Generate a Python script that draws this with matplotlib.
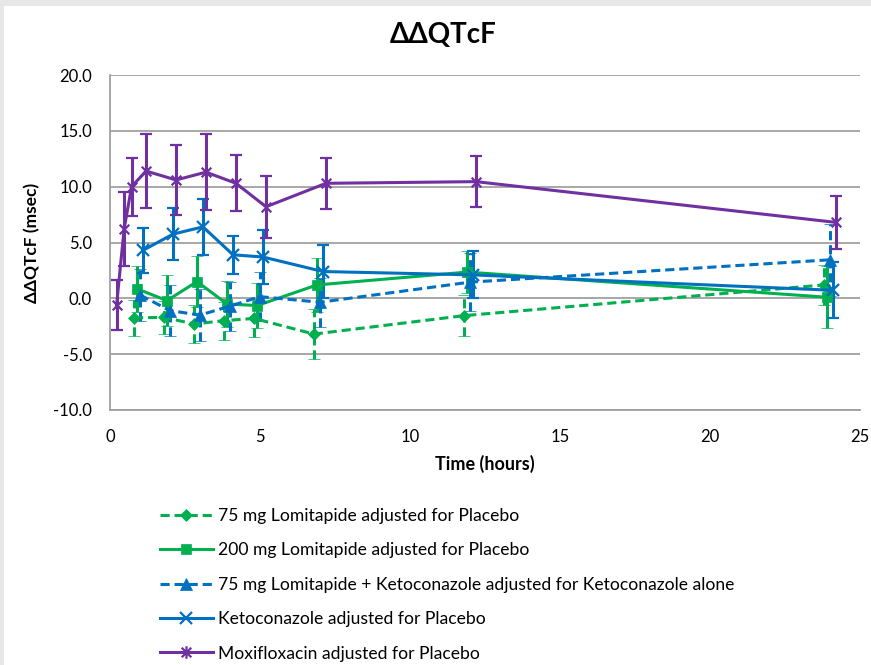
import numpy as np
import matplotlib
matplotlib.use("Agg")
import matplotlib.pyplot as plt
from matplotlib.path import Path
from matplotlib.patches import Rectangle

plt.rcParams['font.family'] = ['Lato', 'DejaVu Sans']

# --- data (x already includes the small per-series shift) ---
t_75 = [0.8, 1.8, 2.8, 3.8, 4.8, 6.8, 11.8, 23.8]
y_75 = [-1.75, -1.7, -2.3, -2.0, -1.8, -3.2, -1.55, 1.2]
e_75 = [1.6, 1.5, 1.7, 1.7, 1.7, 2.25, 1.85, 1.8]

t_200 = [0.9, 1.9, 2.9, 3.9, 4.9, 6.9, 11.9, 23.9]
y_200 = [0.85, -0.2, 1.5, -0.5, -0.65, 1.2, 2.35, 0.1]
e_200 = [2.05, 2.3, 2.27, 2.05, 2.0, 2.4, 1.85, 2.8]

t_ket75 = [1.0, 2.0, 3.0, 4.0, 5.0, 7.0, 12.0, 24.0]
y_ket75 = [0.3, -1.1, -1.5, -0.7, 0.15, -0.35, 1.45, 3.45]
e_ket75 = [2.3, 2.3, 2.3, 2.2, 2.2, 2.2, 2.6, 3.25]

t_ket = [1.1, 2.1, 3.1, 4.1, 5.1, 7.1, 12.1, 24.1]
y_ket = [4.3, 5.75, 6.4, 3.9, 3.7, 2.4, 2.1, 0.72]
e_ket = [2.0, 2.3, 2.5, 1.7, 2.4, 2.35, 2.1, 2.5]

t_moxi = [0.22, 0.47, 0.72, 1.2, 2.2, 3.2, 4.2, 5.2, 7.2, 12.2, 24.2]
y_moxi = [-0.6, 6.2, 10.0, 11.4, 10.6, 11.3, 10.3, 8.2, 10.3, 10.45, 6.8]
e_moxi = [2.25, 3.3, 2.6, 3.35, 3.1, 3.4, 2.5, 2.8, 2.3, 2.3, 2.35]

labels = ["75 mg Lomitapide adjusted for Placebo",
          "200 mg Lomitapide adjusted for Placebo",
          "75 mg Lomitapide + Ketoconazole adjusted for Ketoconazole alone",
          "Ketoconazole adjusted for Placebo",
          "Moxifloxacin adjusted for Placebo"]

GREEN = "#00B050"
BLUE = "#0070C0"
PURPLE = "#7030A0"

# Excel-style "star": an x with a vertical stroke through it
star = Path([(-1, -1), (1, 1), (-1, 1), (1, -1), (0, -1.3), (0, 1.3)],
            [Path.MOVETO, Path.LINETO, Path.MOVETO, Path.LINETO, Path.MOVETO, Path.LINETO])

DASH = (0, (3, 1.6))
series = [
    (t_75, y_75, e_75, GREEN, DASH, "D", 6.5),
    (t_200, y_200, e_200, GREEN, "-", "s", 7.5),
    (t_ket75, y_ket75, e_ket75, BLUE, DASH, "^", 8),
    (t_ket, y_ket, e_ket, BLUE, "-", "x", 8),
    (t_moxi, y_moxi, e_moxi, PURPLE, "-", star, 9),
]

fig = plt.figure(figsize=(8.71, 6.65), dpi=100)
fig.patch.set_facecolor("#e7e7e7")
fig.patches.append(Rectangle((4 / 871, 0), 1, 1 - 6 / 665, transform=fig.transFigure,
                             facecolor="white", edgecolor="none", zorder=-10))

ax = fig.add_axes([110 / 871, 1 - 410 / 665, 750 / 871, 335 / 665])
ax.set_facecolor("none")

handles = []
for t, y, e, col, ls, mk, ms in series:
    filled = mk not in ("x", star)
    eb = ax.errorbar(t, y, yerr=e, color=col, linestyle=ls, lw=2.2,
                     marker=mk, markersize=ms, markeredgewidth=1.6 if not filled else 0.5,
                     markerfacecolor=col, markeredgecolor=col,
                     ecolor=col, elinewidth=2.2, capsize=4, capthick=2.2)
    if ls != "-":
        for lc in eb[2]:
            lc.set_linestyle((0, (3, 1.6)))
    handles.append(eb[0])

ax.set_xlim(0, 25)
ax.set_ylim(-10, 20)
ax.set_xticks(range(0, 26, 5))
ax.set_yticks(range(-10, 21, 5))
ax.set_yticklabels([f"{v:.1f}" for v in range(-10, 21, 5)])
ax.tick_params(length=0, labelsize=12, colors="black")
ax.tick_params(axis="y", pad=13)
ax.tick_params(axis="x", pad=14)
ax.grid(axis="y", color="#a0a0a0", lw=1.3)
ax.set_axisbelow(True)
for s in ("top", "right"):
    ax.spines[s].set_visible(False)
for s in ("left", "bottom"):
    ax.spines[s].set_color("#a0a0a0")
    ax.spines[s].set_linewidth(1.3)

ax.set_xlabel("Time (hours)", fontsize=13, fontweight="bold", labelpad=7)
ax.set_ylabel("\u0394\u0394QTcF (msec)", fontsize=12.5, fontweight="bold", labelpad=9)

fig.text(443 / 871, 1 - 35 / 665, "\u0394\u0394QTcF", fontsize=20, fontweight="bold",
         ha="center", va="center")

fig.legend(handles, labels, loc="upper left", bbox_to_anchor=(160 / 871, 1 - 508 / 665),
           frameon=False, fontsize=12.6, handlelength=3.0, handletextpad=0.3,
           labelspacing=1.05, borderaxespad=0, borderpad=0)

fig.savefig("out.png", dpi=100, facecolor=fig.get_facecolor())
